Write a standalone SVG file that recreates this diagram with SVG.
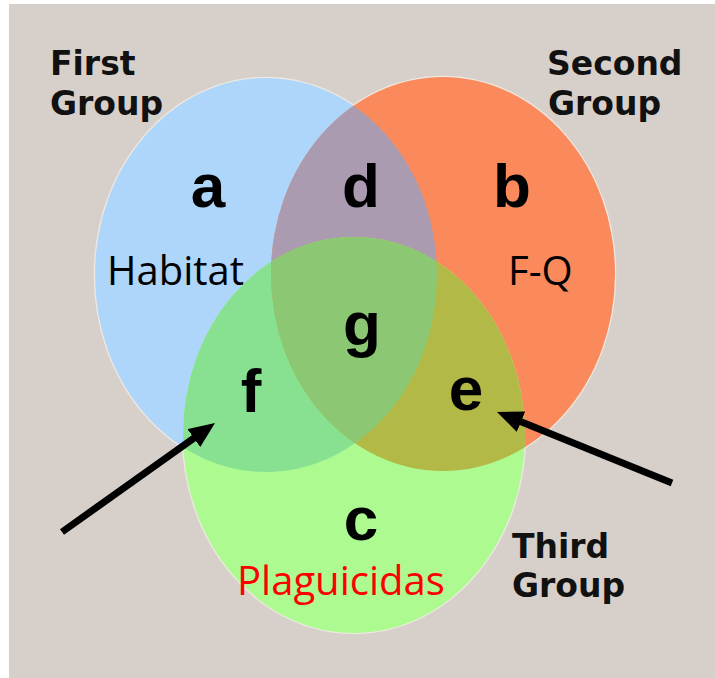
<svg xmlns="http://www.w3.org/2000/svg" width="715" height="678" viewBox="0 0 715 678">
<style>
.grp{font-family:"DejaVu Sans",Verdana,sans-serif;font-weight:bold;font-size:33px;fill:#111}
.let{font-family:"Liberation Sans",Arial,sans-serif;font-weight:bold;font-size:62px;fill:#000;text-anchor:middle}
.lab{font-family:"Open Sans","Noto Sans",sans-serif;font-size:40px}
.halo{fill:none;stroke:#efe9e2;stroke-width:2.5}
.arrow{stroke:#000;stroke-width:7;fill:none;marker-end:url(#ah)}
</style>
<defs>
<clipPath id="cB"><ellipse cx="266" cy="275" rx="171" ry="197"/></clipPath>
<clipPath id="cO"><ellipse cx="443" cy="274" rx="172" ry="197"/></clipPath>
<marker id="ah" viewBox="0 0 26 22" refX="10" refY="11" markerWidth="26" markerHeight="22" markerUnits="userSpaceOnUse" orient="auto">
<path d="M0,0 L26,11 L0,22 Z" fill="#000"/>
</marker>
</defs>
<rect x="0" y="0" width="715" height="678" fill="#ffffff"/>
<rect x="9" y="4" width="706" height="674" fill="#d7d0ca"/>
<g id="halo">
<ellipse class="halo" cx="266" cy="275" rx="171" ry="197"/>
<ellipse class="halo" cx="443" cy="274" rx="172" ry="197"/>
<ellipse class="halo" cx="354" cy="435" rx="171" ry="198"/>
</g>
<g id="first-group">
<ellipse cx="266" cy="275" rx="171" ry="197" fill="#aed6fa"/>
<text class="grp" x="50" y="75">First</text>
<text class="grp" x="50" y="115">Group</text>
</g>
<g id="second-group">
<ellipse cx="443" cy="274" rx="172" ry="197" fill="#fa8a5c"/>
<text class="grp" x="547" y="75">Second</text>
<text class="grp" x="548" y="115">Group</text>
</g>
<g id="region-d">
<ellipse cx="443" cy="274" rx="172" ry="197" fill="#aa9bb0" clip-path="url(#cB)"/>
</g>
<g id="third-group">
<ellipse cx="354" cy="435" rx="171" ry="198" fill="#adfa91"/>
<text class="grp" x="512" y="558">Third</text>
<text class="grp" x="512" y="597">Group</text>
</g>
<g id="region-f">
<ellipse cx="354" cy="435" rx="171" ry="198" fill="#87e191" clip-path="url(#cB)"/>
</g>
<g id="region-e">
<ellipse cx="354" cy="435" rx="171" ry="198" fill="#b3b946" clip-path="url(#cO)"/>
</g>
<g id="region-g">
<g clip-path="url(#cB)">
<ellipse cx="354" cy="435" rx="171" ry="198" fill="#8cc873" clip-path="url(#cO)"/>
</g>
</g>
<g id="labels">
<text class="let" x="208" y="207">a</text>
<text class="let" x="361" y="207">d</text>
<text class="let" x="512" y="207">b</text>
<text class="let" x="362" y="345">g</text>
<text class="let" x="251" y="412">f</text>
<text class="let" x="466" y="410">e</text>
<text class="let" x="361" y="540">c</text>
<text class="lab" x="107" y="285" fill="#000">Habitat</text>
<text class="lab" x="508" y="285" fill="#000">F-Q</text>
<text class="lab" x="237" y="595" fill="#ff0000">Plaguicidas</text>
</g>
<g id="connectors">
<line class="arrow" x1="62" y1="532" x2="202" y2="432.3"/>
<line class="arrow" x1="672" y1="483" x2="511.8" y2="418"/>
</g>
</svg>
